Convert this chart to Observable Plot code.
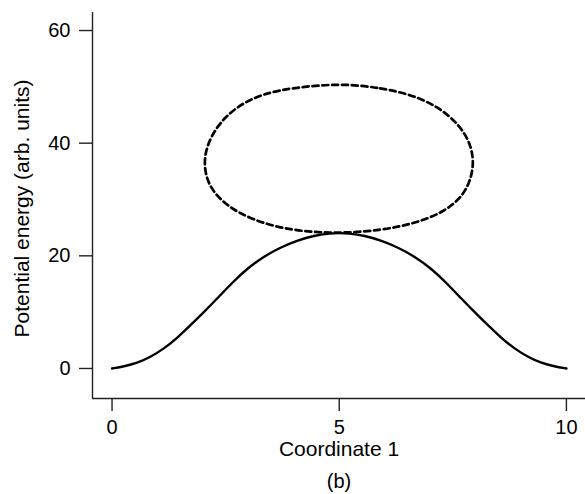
<!DOCTYPE html>
<html>
<head>
<meta charset="utf-8">
<script src="https://cdn.jsdelivr.net/npm/d3@7"></script>
<script src="https://cdn.jsdelivr.net/npm/@observablehq/plot@0.6"></script>
<style>
  html, body { margin: 0; padding: 0; background: white; }
  #chart svg g[aria-label$="tick label"] text { font-size: 20px !important; }
</style>
</head>
<body>
<div id="chart"></div>
<script>
// Solid curve (ground-state potential energy)
const curveX = [0, 0.26, 0.55, 0.84, 1.14, 1.43, 1.72, 2.02, 2.31, 2.68, 2.97, 3.34, 3.71, 4.07, 4.44, 4.81, 5.00,
                5.19, 5.56, 5.93, 6.29, 6.66, 7.03, 7.32, 7.69, 7.98, 8.28, 8.57, 8.86, 9.16, 9.45, 9.74, 10];
const curveY = [0, 0.35, 0.94, 2.0, 3.5, 5.4, 7.6, 10.0, 12.4, 15.5, 17.7, 19.9, 21.5, 22.7, 23.6, 24.0, 24.05,
                24.0, 23.6, 22.7, 21.5, 19.9, 17.7, 15.5, 12.4, 10.0, 7.6, 5.4, 3.5, 2.0, 0.94, 0.35, 0];

// Dashed closed loop
const loopX = [5.00, 5.90, 6.80, 7.45, 7.81, 7.96, 7.93, 7.74, 7.30, 6.64, 5.90, 5.00, 4.18, 3.45, 2.79, 2.35, 2.09, 2.02, 2.09, 2.31, 2.72, 3.30, 4.04];
const loopY = [50.6, 49.9, 48.2, 44.9, 41.4, 37.8, 34.3, 30.7, 27.7, 25.7, 24.5, 24.0, 24.3, 25.4, 27.5, 30.1, 33.1, 36.6, 39.6, 43.1, 46.4, 48.8, 49.9];

const xTicks = [0, 5, 10];
const yTicks = [0, 20, 40, 60];
const xLabel = "Coordinate 1";
const yLabel = "Potential energy (arb. units)";
const panelLabel = "(b)";

const curve = curveX.map((x, i) => ({x, y: curveY[i]}));
const loop = loopX.map((x, i) => ({x, y: loopY[i]}));

const xDomain = [-0.43, 10.42];
const yDomain = [-5.33, 63.2];
const FS = 20;

const chart = Plot.plot({
  width: 585,
  height: 494,
  marginLeft: 92,
  marginRight: 0,
  marginTop: 12,
  marginBottom: 96,
  style: {fontFamily: "'Liberation Sans', Arial, Helvetica, sans-serif", fontSize: FS + "px", color: "black", background: "white"},
  x: {domain: xDomain},
  y: {domain: yDomain},
  marks: [
    Plot.ruleX([xDomain[0]], {stroke: "#222", strokeWidth: 1.4}),
    Plot.ruleY([yDomain[0]], {stroke: "#222", strokeWidth: 1.4}),
    Plot.axisX({ticks: xTicks, tickSize: 13, tickPadding: 8, label: null, strokeWidth: 1.4, stroke: "#222", fontSize: FS}),
    Plot.axisY({ticks: yTicks, tickSize: 13, tickPadding: 9, label: null, strokeWidth: 1.4, stroke: "#222", fontSize: FS}),
    Plot.line(curve, {x: "x", y: "y", curve: "basis", stroke: "black", strokeWidth: 2.4}),
    Plot.line(loop, {x: "x", y: "y", curve: "basis-closed", stroke: "black", strokeWidth: 2.7, strokeDasharray: "6,3.8"}),
    Plot.text([xLabel], {frameAnchor: "bottom", dy: 57, text: d => d, fill: "black", fontSize: 21, textAnchor: "middle"}),
    Plot.text([panelLabel], {frameAnchor: "bottom", dy: 89, text: d => d, fill: "black", fontSize: 20, textAnchor: "middle"}),
    Plot.text([yLabel], {frameAnchor: "left", dx: -70, dy: 3, rotate: -90, text: d => d, fill: "black", fontSize: 21, textAnchor: "middle"})
  ]
});
document.getElementById("chart").appendChild(chart);
</script>
</body>
</html>
